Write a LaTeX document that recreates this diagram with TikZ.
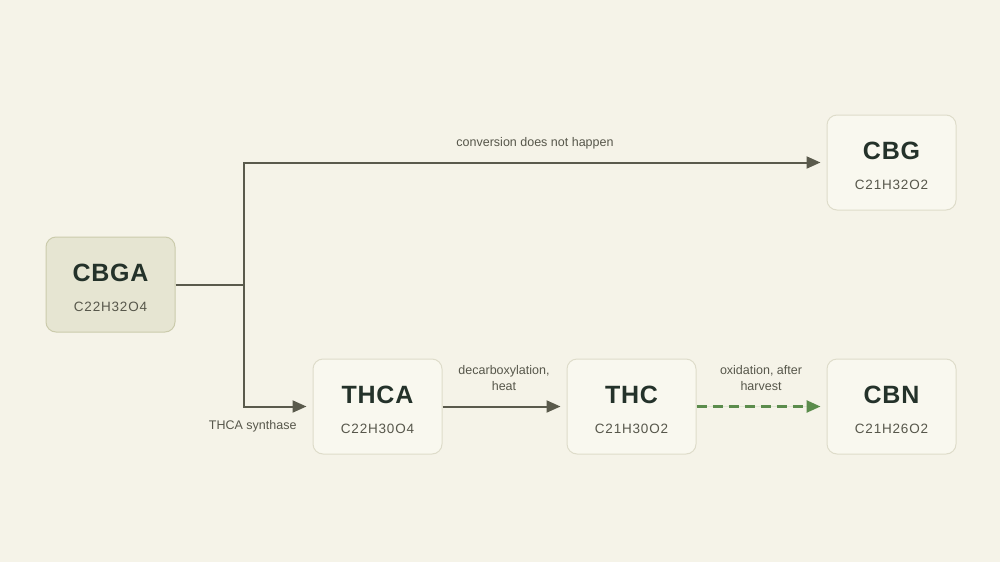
\documentclass[tikz,border=0pt]{standalone}
\usepackage{fontspec}
\usepackage{xcolor}
\setmainfont{Liberation Sans}
\usetikzlibrary{arrows.meta}
\definecolor{paper}{HTML}{F5F3E8}
\definecolor{boxfill}{HTML}{F9F8EF}
\definecolor{boxline}{HTML}{DEDCCA}
\definecolor{startfill}{HTML}{E6E5D2}
\definecolor{startline}{HTML}{CBCBAC}
\definecolor{inkdark}{HTML}{24322A}
\definecolor{inkgrey}{HTML}{57574B}
\definecolor{wire}{HTML}{5A5A4C}
\definecolor{leafgreen}{HTML}{5B8C4C}
\newcommand{\compound}[2]{{\fontsize{25}{27}\selectfont\bfseries\addfontfeatures{LetterSpace=3}\rule{0pt}{25pt}#1}\\[18pt]{\fontsize{13.5}{15}\selectfont\addfontfeatures{LetterSpace=6}\color{inkgrey}#2}}
\tikzset{
    compound-box/.style = {draw=boxline, fill=boxfill, line width=1pt, rectangle, rounded corners=10pt, minimum width=129pt, minimum height=95pt, align=center, text=inkdark, inner sep=0pt},
    compound-start/.style = {compound-box, draw=startline, fill=startfill},
    flow/.style = {draw=wire, line width=2pt, -{Triangle[length=14pt,width=12pt]}, shorten >=6pt},
    flow-label/.style = {font=\fontsize{12.5}{16}\selectfont, text=inkgrey, align=center},
}

\begin{document}
\begin{tikzpicture}[x=1pt,y=-1pt]
\fill[paper] (0,0) rectangle (1000,562);
\useasboundingbox (0,0) rectangle (1000,562);

\node [compound-start] (cbga) at (110.5,284.5) {\compound{CBGA}{C22H32O4}};
\node [compound-box] (cbg) at (891.5,162.5) {\compound{CBG}{C21H32O2}};
\node [compound-box] (thca) at (377.5,406.5) {\compound{THCA}{C22H30O4}};
\node [compound-box] (thc) at (631.5,406.5) {\compound{THC}{C21H30O2}};
\node [compound-box] (cbn) at (891.5,406.5) {\compound{CBN}{C21H26O2}};

\coordinate (split) at (244,284.5);
\draw [draw=wire, line width=2pt] (cbga) -- (split);
\draw [flow] (split) |- (cbg);
\draw [flow] (split) |- (thca);
\draw [flow] (thca) -- (thc);
\draw [flow, draw=leafgreen, fill=leafgreen, line width=2.5pt, dash pattern=on 10pt off 6pt] (thc) -- (cbn);

\node [flow-label] (nohappen) at (535,143) {conversion does not happen};
\node [flow-label, anchor=east] (synthase) at (300,426) {THCA synthase};
\node [flow-label] (decarb) at (504,378) {decarboxylation,\\heat};
\node [flow-label] (oxid) at (761,378) {oxidation, after\\harvest};
\end{tikzpicture}
\end{document}
